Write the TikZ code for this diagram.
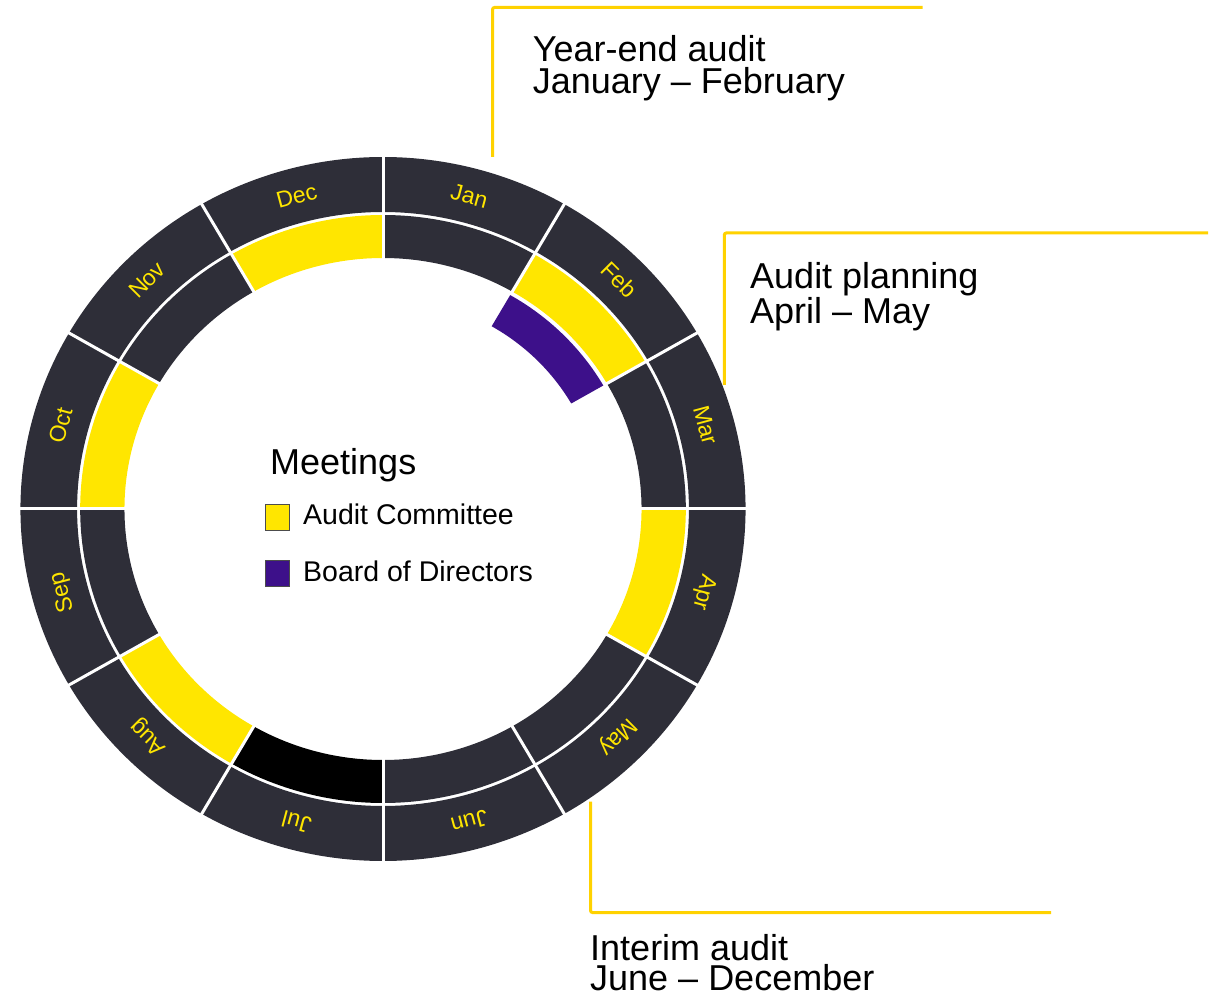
\documentclass[tikz,border=0pt]{standalone}
\usepackage{fontspec}
\setmainfont{Liberation Sans}
\usetikzlibrary{positioning}
\definecolor{ringdark}{HTML}{2E2E38}
\definecolor{audityellow}{HTML}{FFE600}
\definecolor{boardpurple}{HTML}{3D108A}
\definecolor{calloutgold}{HTML}{FFD200}

\begin{document}
\begin{tikzpicture}[
    x=1pt, y=1pt,
    month/.style={text=audityellow, font=\fontsize{23}{23}\selectfont, inner sep=0pt, text height=16.5pt, text depth=0pt},
    gap/.style={draw=white, line width=3pt},
    callout/.style={draw=calloutgold, line width=3pt, rounded corners=2pt},
    phase/.style={font=\fontsize{36}{31.6}\selectfont, align=left, inner sep=0pt, anchor=base west},
    legendbox/.style={draw=black!70, line width=0.8pt, minimum width=24pt, minimum height=26pt, inner sep=0pt},
    legendtext/.style={font=\fontsize{28.5}{30}\selectfont, inner sep=0pt, anchor=base west}
]
    \useasboundingbox (0,0) rectangle (1215,997);

    % Year ring
    \begin{scope}[shift={(383,488)}, xscale=1.03]
        \foreach \m/\col [count=\i] in {Jan/ringdark, Feb/audityellow, Mar/ringdark, Apr/audityellow, May/ringdark, Jun/ringdark, Jul/black, Aug/audityellow, Sep/ringdark, Oct/audityellow, Nov/ringdark, Dec/audityellow}{
            \pgfmathsetmacro{\sa}{120-30*\i}
            \pgfmathsetmacro{\ea}{90-30*\i}
            \pgfmathsetmacro{\ma}{105-30*\i}
            \fill[ringdark] (\sa:352) arc[start angle=\sa, end angle=\ea, radius=352] -- (\ea:297) arc[start angle=\ea, end angle=\sa, radius=297] -- cycle;
            \fill[\col] (\sa:294) arc[start angle=\sa, end angle=\ea, radius=294] -- (\ea:251) arc[start angle=\ea, end angle=\sa, radius=251] -- cycle;
            \node[month, rotate=\ma-90] (m\i) at (\ma:324.5) {\m};
        }
        % month separators
        \foreach \t in {0,30,...,330}
            \draw[gap] (\t:248) -- (\t:356);
        % board meeting
        \fill[boardpurple] (60:247) arc[start angle=60, end angle=30, radius=247] -- (30:211) arc[start angle=30, end angle=60, radius=211] -- cycle;
    \end{scope}

    % Legend
    \node[font=\fontsize{36}{36}\selectfont, inner sep=0pt, anchor=base west] (meetings) at (270,522) {Meetings};
    \node[legendbox, fill=audityellow] (acbox) at (277,480) {};
    \node[legendbox, fill=boardpurple, below=29.7pt of acbox] (bdbox) {};
    \node[legendtext] (actext) at (303,472) {Audit Committee};
    \node[legendtext] (bdtext) at (303,415.3) {Board of Directors};

    % Audit phases
    \coordinate (yefoot) at (492.5,840);
    \coordinate (yeend) at (922.7,989.5);
    \coordinate (apfoot) at (724.3,612);
    \coordinate (apend) at (1208,764);
    \coordinate (imfoot) at (590.5,195.3);
    \coordinate (imend) at (1051,84.5);
    \draw[callout] (yefoot) |- (yeend);
    \draw[callout] (apfoot) |- (apend);
    \draw[callout] (imfoot) |- (imend);
    \node[phase] (yearend) at (532.7,903.7) {Year-end audit\\January -- February};
    \node[phase] (planning) at (750,673.7) {Audit planning\\April -- May};
    \node[phase, font=\fontsize{36}{30.7}\selectfont] (interim) at (590,6.3) {Interim audit\\June -- December};
\end{tikzpicture}
\end{document}
